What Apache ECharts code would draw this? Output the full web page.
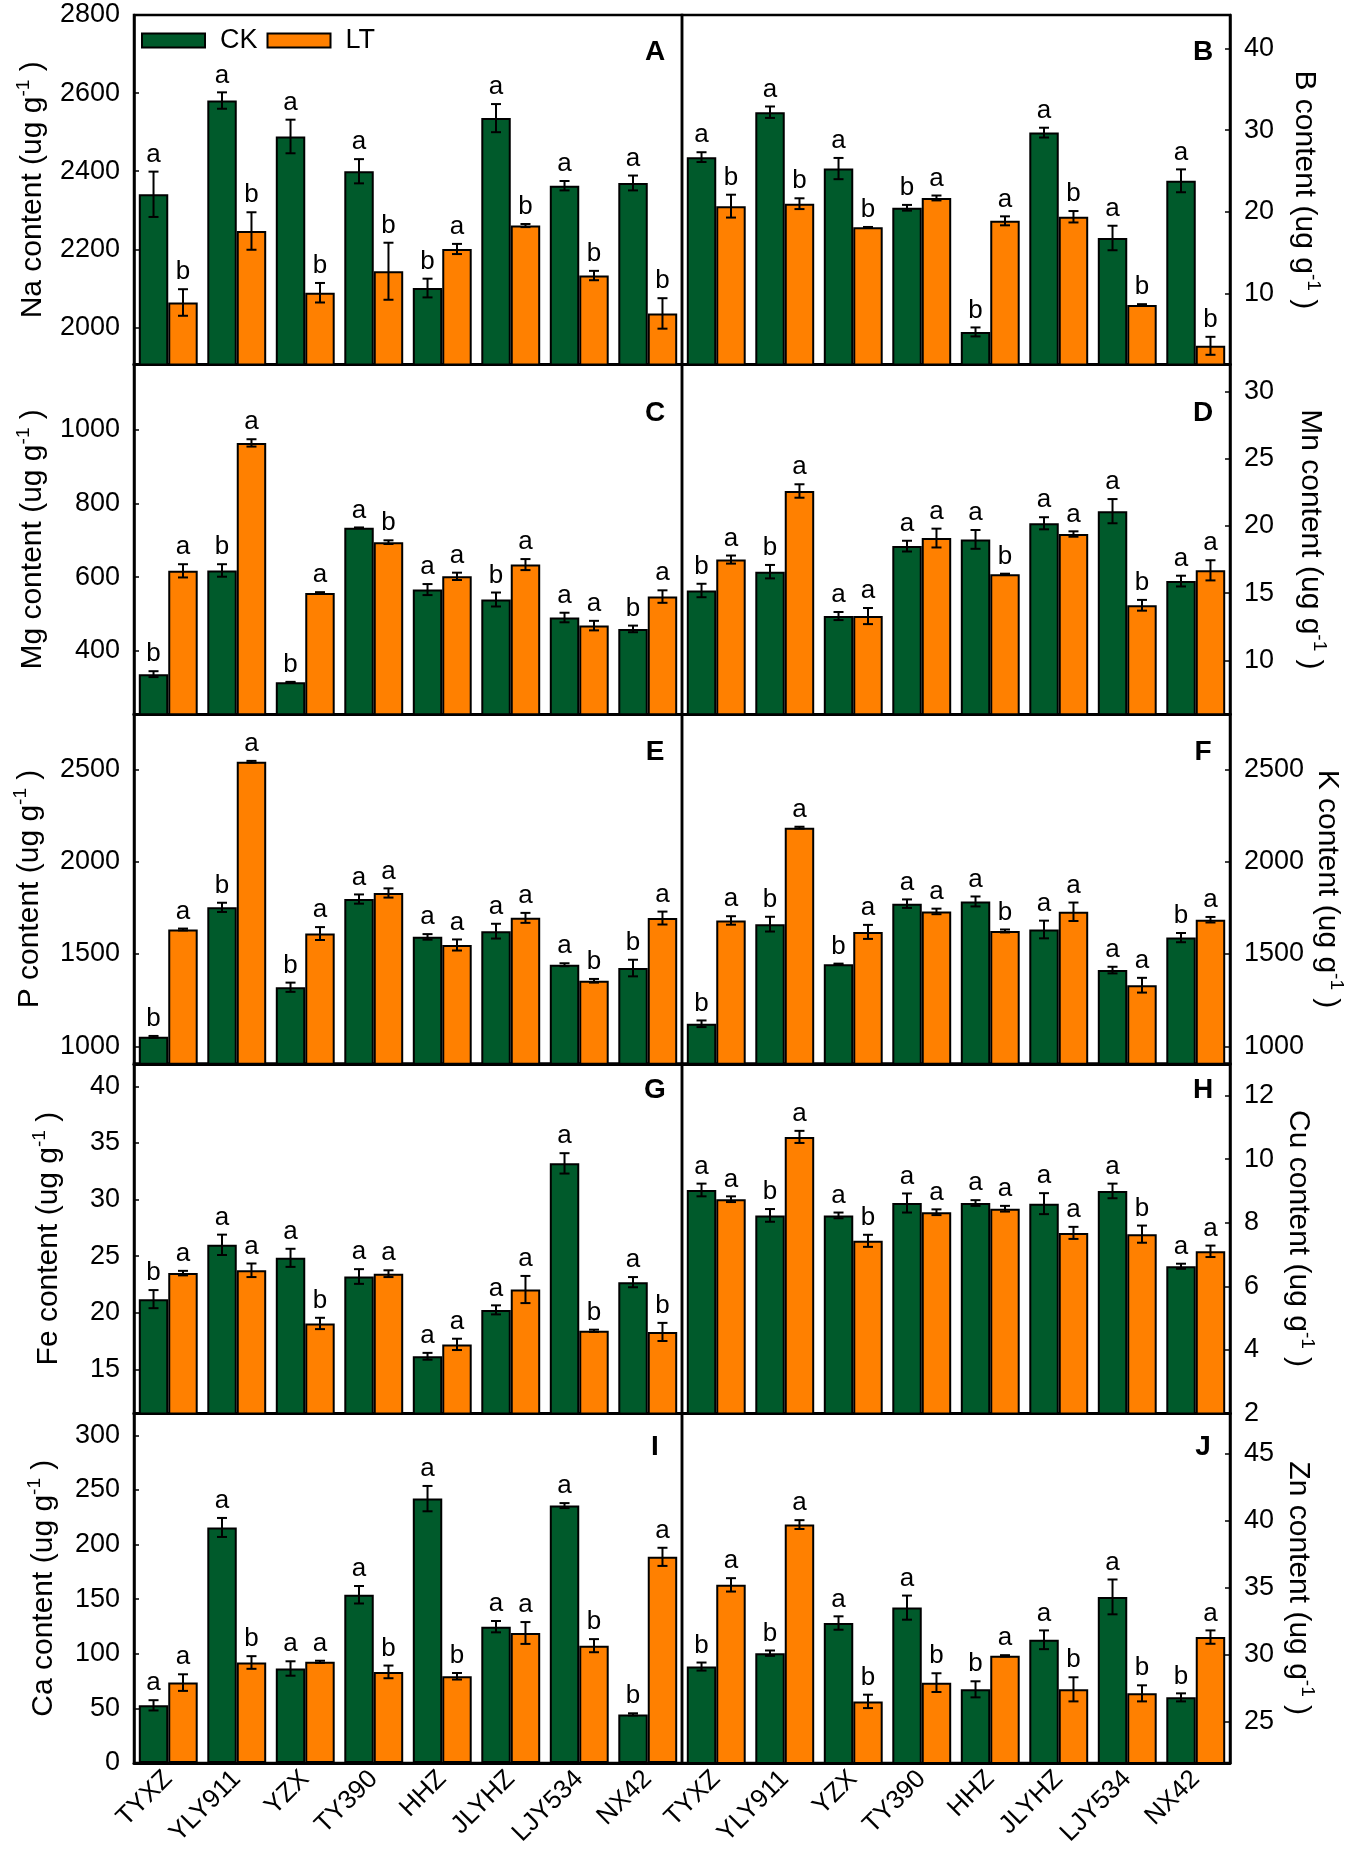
<!DOCTYPE html>
<html>
<head>
<meta charset="utf-8">
<script src="https://cdn.jsdelivr.net/npm/echarts@6/dist/echarts.min.js"></script>
<title>Mineral content CK vs LT</title>
<style>
  html, body { margin: 0; padding: 0; background: #fff; }
  #main { width: 1358px; height: 1854px; }
</style>
</head>
<body>
<div id="main"></div>
<script type="text/javascript">
// cultivars on the x axis
var cultivars = ['TYXZ', 'YLY911', 'YZX', 'TY390', 'HHZ', 'JLYHZ', 'LJY534', 'NX42'];

// A - Na
var naCK = [2341, 2581, 2489, 2400, 2101, 2536, 2363, 2370];
var naCKErr = [58, 21, 43, 31, 24, 36, 12, 19];
var naLT = [2064, 2247, 2089, 2144, 2201, 2261, 2133, 2036];
var naLTErr = [34, 48, 25, 73, 13, 4, 12, 39];
var naCKSig = ['a', 'a', 'a', 'a', 'b', 'a', 'a', 'a'];
var naLTSig = ['b', 'b', 'b', 'b', 'a', 'b', 'b', 'b'];
var naTicks = [2000, 2200, 2400, 2600, 2800];

// B - B
var bCK = [26.7, 32.2, 25.3, 20.5, 5.3, 29.7, 16.8, 23.8];
var bCKErr = [0.6, 0.7, 1.3, 0.35, 0.55, 0.6, 1.5, 1.4];
var bLT = [20.7, 21.0, 18.1, 21.7, 18.9, 19.4, 8.6, 3.6];
var bLTErr = [1.4, 0.66, 0.05, 0.3, 0.55, 0.7, 0.1, 1.1];
var bCKSig = ['a', 'a', 'a', 'b', 'b', 'a', 'a', 'a'];
var bLTSig = ['b', 'b', 'b', 'a', 'a', 'b', 'b', 'b'];
var bTicks = [10, 20, 30, 40];

// C - Mg
var mgCK = [336, 618, 314, 734, 566, 539, 490, 459];
var mgCKErr = [8, 17, 1, 1, 15, 19, 13, 9];
var mgLT = [617, 965, 557, 695, 602, 634, 468, 547];
var mgLTErr = [18, 10, 2, 5, 10, 15, 13, 17];
var mgCKSig = ['b', 'b', 'b', 'a', 'a', 'b', 'a', 'b'];
var mgLTSig = ['a', 'a', 'a', 'b', 'a', 'a', 'a', 'a'];
var mgTicks = [400, 600, 800, 1000];

// D - Mn
var mnCK = [15.2, 16.6, 13.3, 18.5, 19.0, 20.2, 21.1, 15.9];
var mnCKErr = [0.5, 0.5, 0.3, 0.4, 0.7, 0.45, 0.9, 0.4];
var mnLT = [17.5, 22.6, 13.3, 19.1, 16.4, 19.4, 14.1, 16.7];
var mnLTErr = [0.3, 0.5, 0.6, 0.7, 0.05, 0.2, 0.4, 0.75];
var mnCKSig = ['b', 'b', 'a', 'a', 'a', 'a', 'a', 'a'];
var mnLTSig = ['a', 'a', 'a', 'a', 'b', 'a', 'b', 'a'];
var mnTicks = [10, 15, 20, 25, 30];

// E - P
var pCK = [1051, 1753, 1320, 1798, 1593, 1624, 1442, 1424];
var pCKErr = [5, 25, 25, 25, 15, 40, 8, 45];
var pLT = [1633, 2542, 1611, 1831, 1549, 1696, 1355, 1695];
var pLTErr = [5, 5, 35, 25, 30, 27, 10, 35];
var pCKSig = ['b', 'b', 'b', 'a', 'a', 'a', 'a', 'b'];
var pLTSig = ['a', 'a', 'a', 'a', 'a', 'a', 'b', 'a'];
var pTicks = [1000, 1500, 2000, 2500];

// F - K
var kCK = [1122, 1662, 1445, 1773, 1785, 1633, 1413, 1589];
var kCKErr = [18, 40, 3, 23, 27, 48, 18, 25];
var kLT = [1682, 2185, 1620, 1731, 1625, 1729, 1331, 1686];
var kLTErr = [23, 5, 38, 15, 8, 50, 40, 15];
var kCKSig = ['b', 'b', 'b', 'a', 'a', 'a', 'a', 'b'];
var kLTSig = ['a', 'a', 'a', 'a', 'b', 'a', 'a', 'a'];
var kTicks = [1000, 1500, 2000, 2500];

// G - Fe
var feCK = [21.2, 26.0, 24.85, 23.2, 16.15, 20.25, 33.2, 22.7];
var feCKErr = [0.8, 0.9, 0.8, 0.65, 0.3, 0.4, 0.9, 0.45];
var feLT = [23.5, 23.75, 19.05, 23.45, 17.2, 22.05, 18.4, 18.3];
var feLTErr = [0.2, 0.6, 0.5, 0.3, 0.5, 1.2, 0.1, 0.8];
var feCKSig = ['b', 'a', 'a', 'a', 'a', 'a', 'a', 'a'];
var feLTSig = ['a', 'a', 'b', 'a', 'a', 'a', 'b', 'b'];
var feTicks = [15, 20, 25, 30, 35, 40];

// H - Cu
var cuCK = [9.03, 8.23, 8.23, 8.62, 8.62, 8.6, 9.0, 6.63];
var cuCKErr = [0.2, 0.2, 0.09, 0.3, 0.09, 0.33, 0.23, 0.08];
var cuLT = [8.74, 10.7, 7.43, 8.33, 8.44, 7.68, 7.64, 7.1];
var cuLTErr = [0.09, 0.19, 0.19, 0.09, 0.09, 0.19, 0.27, 0.18];
var cuCKSig = ['a', 'b', 'a', 'a', 'a', 'a', 'a', 'a'];
var cuLTSig = ['a', 'a', 'b', 'a', 'a', 'a', 'b', 'a'];
var cuTicks = [2, 4, 6, 8, 10, 12];

// I - Ca
var caCK = [52.8, 215.6, 86.5, 154, 242, 124.8, 235.6, 44.5];
var caCKErr = [4.7, 8.7, 6.6, 8, 11.6, 5.2, 2.3, 1];
var caLT = [73.6, 92, 92.6, 83.4, 79.4, 119, 107.4, 188.7];
var caLTErr = [7.6, 5.8, 1, 5.8, 3, 10, 6, 8.3];
var caCKSig = ['a', 'a', 'a', 'a', 'a', 'a', 'a', 'b'];
var caLTSig = ['a', 'b', 'a', 'b', 'b', 'a', 'b', 'a'];
var caTicks = [0, 50, 100, 150, 200, 250, 300];

// J - Zn
var znCK = [29.1, 30.1, 32.35, 33.5, 27.4, 31.1, 34.3, 26.8];
var znCKErr = [0.3, 0.2, 0.5, 0.9, 0.6, 0.7, 1.3, 0.3];
var znLT = [35.2, 39.7, 26.5, 27.9, 29.9, 27.4, 27.1, 31.3];
var znLTErr = [0.5, 0.33, 0.5, 0.7, 0.05, 0.9, 0.6, 0.5];
var znCKSig = ['b', 'b', 'a', 'a', 'b', 'a', 'a', 'b'];
var znLTSig = ['a', 'a', 'b', 'b', 'a', 'b', 'b', 'a'];
var znTicks = [25, 30, 35, 40, 45];

var FONT = 'Liberation Sans';
var GREEN = '#005a2b';
var ORANGE = '#ff8000';
var PANEL_W = 548;
var ROW_H = 349.6;
var rowLetterDy = [37, 49, 38, 26, 34];

var panels = [
    {letter: 'A', el: 'Na', ck: naCK, ckErr: naCKErr, ckSig: naCKSig, lt: naLT, ltErr: naLTErr, ltSig: naLTSig, min: 1905, max: 2800, ticks: naTicks, gap: 82},
    {letter: 'B', el: 'B', ck: bCK, ckErr: bCKErr, ckSig: bCKSig, lt: bLT, ltErr: bLTErr, ltSig: bLTSig, min: 1.3, max: 44.1, ticks: bTicks, gap: 55},
    {letter: 'C', el: 'Mg', ck: mgCK, ckErr: mgCKErr, ckSig: mgCKSig, lt: mgLT, ltErr: mgLTErr, ltSig: mgLTSig, min: 227, max: 1178, ticks: mgTicks, gap: 82},
    {letter: 'D', el: 'Mn', ck: mnCK, ckErr: mnCKErr, ckSig: mnCKSig, lt: mnLT, ltErr: mnLTErr, ltSig: mnLTSig, min: 6, max: 32, ticks: mnTicks, gap: 61},
    {letter: 'E', el: 'P', ck: pCK, ckErr: pCKErr, ckSig: pCKSig, lt: pLT, ltErr: pLTErr, ltSig: pLTSig, min: 905, max: 2800, ticks: pTicks, gap: 85},
    {letter: 'F', el: 'K', ck: kCK, ckErr: kCKErr, ckSig: kCKSig, lt: kLT, ltErr: kLTErr, ltSig: kLTSig, min: 905, max: 2800, ticks: kTicks, gap: 78},
    {letter: 'G', el: 'Fe', ck: feCK, ckErr: feCKErr, ckSig: feCKSig, lt: feLT, ltErr: feLTErr, ltSig: feLTSig, min: 11.1, max: 42, ticks: feTicks, gap: 66},
    {letter: 'H', el: 'Cu', ck: cuCK, ckErr: cuCKErr, ckSig: cuCKSig, lt: cuLT, ltErr: cuLTErr, ltSig: cuLTSig, min: 2, max: 13, ticks: cuTicks, gap: 49},
    {letter: 'I', el: 'Ca', ck: caCK, ckErr: caCKErr, ckSig: caCKSig, lt: caLT, ltErr: caLTErr, ltSig: caLTSig, min: 0, max: 320, ticks: caTicks, gap: 71},
    {letter: 'J', el: 'Zn', ck: znCK, ckErr: znCKErr, ckSig: znCKSig, lt: znLT, ltErr: znLTErr, ltSig: znLTSig, min: 21.9, max: 48, ticks: znTicks, gap: 49}
];

// error bar + significance letter, shifted onto the CK (-1) or LT (+1) bar
function errorBar(side, sig) {
    return function (params, api) {
        var x = api.value(0), v = api.value(1), e = api.value(2);
        var band = api.size([1, 0])[0];
        var hi = api.coord([x, v + e]);
        var lo = api.coord([x, v - e]);
        var cx = hi[0] + side * band * 0.215;
        var st = {stroke: '#000', lineWidth: 2};
        return {
            type: 'group',
            children: [
                {type: 'line', shape: {x1: cx, y1: hi[1], x2: cx, y2: lo[1]}, style: st},
                {type: 'line', shape: {x1: cx - 5, y1: hi[1], x2: cx + 5, y2: hi[1]}, style: st},
                {type: 'line', shape: {x1: cx - 5, y1: lo[1], x2: cx + 5, y2: lo[1]}, style: st},
                {type: 'text', x: cx, y: hi[1] - 4, style: {
                    text: sig[params.dataIndex], fill: '#000', fontSize: 26, fontFamily: FONT,
                    align: 'center', verticalAlign: 'bottom'}}
            ]
        };
    };
}

var grids = [], xAxes = [], yAxes = [], series = [], graphics = [];

panels.forEach(function (p, i) {
    var row = Math.floor(i / 2), col = i % 2;
    var left = col === 0 ? 134 : 682;
    var top = 15 + row * ROW_H;

    grids.push({
        left: left, top: top, width: PANEL_W, height: ROW_H,
        show: true, borderColor: '#000', borderWidth: 2.5,
        containLabel: false, outerBoundsMode: 'none'
    });

    xAxes.push({
        type: 'category', gridIndex: i, data: cultivars,
        axisLine: {show: true, lineStyle: {color: '#000', width: 3}},
        axisTick: {show: false},
        axisLabel: {show: row === 4, rotate: 45, fontSize: 26, fontFamily: FONT, color: '#000', margin: 12},
        splitLine: {show: false}
    });

    yAxes.push({
        type: 'value', gridIndex: i, min: p.min, max: p.max,
        position: col === 0 ? 'left' : 'right',
        axisLine: {show: true, lineStyle: {color: '#000', width: 2.5}},
        axisTick: {show: true, inside: true, length: 5, customValues: p.ticks, lineStyle: {color: '#000', width: 1.5}},
        axisLabel: {
            customValues: p.ticks, fontSize: 27, fontFamily: FONT, color: '#000', margin: 14,
            formatter: function (v) { return String(v); }
        },
        splitLine: {show: false},
        name: p.el + ' content (ug g{s|-1} )',
        nameLocation: 'middle',
        nameGap: p.gap,
        nameRotate: col === 0 ? 90 : -90,
        nameTextStyle: {
            fontSize: 30, fontFamily: FONT, color: '#000', lineHeight: 38,
            rich: {s: {fontSize: 19, fontFamily: FONT, color: '#000', verticalAlign: 'top', lineHeight: 38}}
        }
    });

    series.push({
        name: 'CK', type: 'bar', xAxisIndex: i, yAxisIndex: i, data: p.ck,
        barGap: '0%', barCategoryGap: '14%', silent: true,
        itemStyle: {color: GREEN, borderColor: '#000', borderWidth: 2}
    });
    series.push({
        name: 'LT', type: 'bar', xAxisIndex: i, yAxisIndex: i, data: p.lt,
        barGap: '0%', barCategoryGap: '14%', silent: true,
        itemStyle: {color: ORANGE, borderColor: '#000', borderWidth: 2}
    });
    series.push({
        type: 'custom', xAxisIndex: i, yAxisIndex: i, z: 5, silent: true, clip: false,
        data: p.ck.map(function (v, k) { return [k, v, p.ckErr[k]]; }),
        encode: {x: 0, y: 1},
        renderItem: errorBar(-1, p.ckSig)
    });
    series.push({
        type: 'custom', xAxisIndex: i, yAxisIndex: i, z: 5, silent: true, clip: false,
        data: p.lt.map(function (v, k) { return [k, v, p.ltErr[k]]; }),
        encode: {x: 0, y: 1},
        renderItem: errorBar(1, p.ltSig)
    });

    // panel letter in the top right corner
    graphics.push({
        type: 'text', x: left + PANEL_W - 27, y: top + rowLetterDy[row], z: 10,
        style: {text: p.letter, fontSize: 28, fontWeight: 'bold', fontFamily: FONT, fill: '#000',
                align: 'center', verticalAlign: 'middle'}
    });
});

var myChart = echarts.init(document.getElementById('main'));

var option = {
    animation: false,
    backgroundColor: '#fff',
    legend: {
        data: ['CK', 'LT'], left: 141, top: 27, padding: 0,
        itemWidth: 63, itemHeight: 14, itemGap: 9, icon: 'rect',
        textStyle: {fontSize: 27, fontFamily: FONT, color: '#000', padding: [0, 0, 0, 10]},
        selectedMode: false
    },
    grid: grids,
    xAxis: xAxes,
    yAxis: yAxes,
    series: series,
    graphic: graphics
};

myChart.setOption(option);
</script>
</body>
</html>
